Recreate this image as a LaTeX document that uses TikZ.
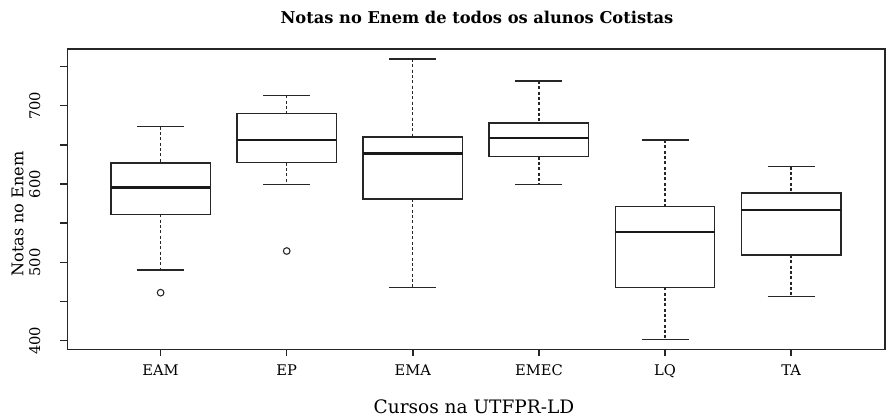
\documentclass[tikz,border=0pt]{standalone}
\usepackage{fontspec}
\setmainfont{DejaVu Serif}
\begin{document}
\begin{tikzpicture}[x=0.75pt,y=-0.75pt,
	frame/.style={line width=1.1pt, draw=black!85},
	whisker/.style={line width=1pt, draw=black!85, dash pattern=on 2.3pt off 1.7pt},
	median/.style={line width=2.2pt, draw=black!90},
	ticklabel/.style={font=\fontsize{11}{13}\selectfont, inner sep=0pt},
	axislabel/.style={font=\fontsize{13.9}{16}\selectfont, inner sep=0pt}]
	\useasboundingbox (0,0) rectangle (887,417);
	\def \xl {67.7}
	\def \xr {885}
	\def \yt {49}
	\def \yb {349.5}
	\def \ys {0.7833} % px per point of the score
	
	% y axis
	\foreach \v in {400,450,...,750}
		\draw[frame] (60,{340.7-(\v-400)*\ys}) -- (\xl,{340.7-(\v-400)*\ys});
	\foreach \v in {400,500,...,700}
		\node[ticklabel, rotate=90, anchor=south] (y\v) at (40.5,{340.7-(\v-400)*\ys}) {\v};
	
	% one box per course: label/top whisker/Q3/median/Q1/bottom whisker
	\foreach \lab/\hi/\qt/\md/\qo/\lo [count=\i] in {EAM/673.2/626.9/595.3/561.4/490.3,
		EP/713.3/690.3/656.2/627.2/599.2, EMA/759.6/660/638.7/580.9/468.2,
		EMEC/731.6/677.9/658.8/634.9/599.2, LQ/656.2/571.1/538.8/468.2/401.3,
		TA/622.1/588.6/566.9/509.4/456.7}
	{
		\pgfmathsetmacro\cx{160.6+(\i-1)*126.1}
		\pgfmathsetmacro\yhi{340.7-(\hi-400)*\ys}
		\pgfmathsetmacro\yqt{340.7-(\qt-400)*\ys}
		\pgfmathsetmacro\ymd{340.7-(\md-400)*\ys}
		\pgfmathsetmacro\yqo{340.7-(\qo-400)*\ys}
		\pgfmathsetmacro\ylo{340.7-(\lo-400)*\ys}
		\draw[whisker] (\cx,\yhi) -- (\cx,\yqt);
		\draw[whisker] (\cx,\yqo) -- (\cx,\ylo);
		\draw[frame] (\cx-23.5,\yhi) -- (\cx+23.5,\yhi);
		\draw[frame] (\cx-23.5,\ylo) -- (\cx+23.5,\ylo);
		\draw[frame, fill=white] (\cx-49.7,\yqt) rectangle (\cx+49.7,\yqo);
		\draw[median] (\cx-49.7,\ymd) -- (\cx+49.7,\ymd);
		\draw[frame] (\cx,\yb) -- (\cx,\yb+6.5);
		\node[ticklabel, anchor=base] (lab\i) at (\cx,375.7) {\lab};
	}
	
	% outliers
	\foreach \i/\v in {1/461.3, 2/514.5}
		\draw[line width=0.8pt, draw=black!85] ({160.6+(\i-1)*126.1},{340.7-(\v-400)*\ys}) circle[radius=2.5pt];
	
	\draw[frame] (\xl,\yt) rectangle (\xr,\yb);
	
	\node[axislabel, font=\fontsize{12.2}{14}\selectfont\bfseries, anchor=base] (title) at (477,24) {Notas no Enem de todos os alunos Cotistas};
	\node[axislabel, anchor=base] (xlab) at (474,413) {Cursos na UTFPR-LD};
	\node[axislabel, font=\fontsize{12.1}{14}\selectfont, rotate=90, anchor=base] (ylab) at (23.5,214) {Notas no Enem};
\end{tikzpicture}
\end{document}
